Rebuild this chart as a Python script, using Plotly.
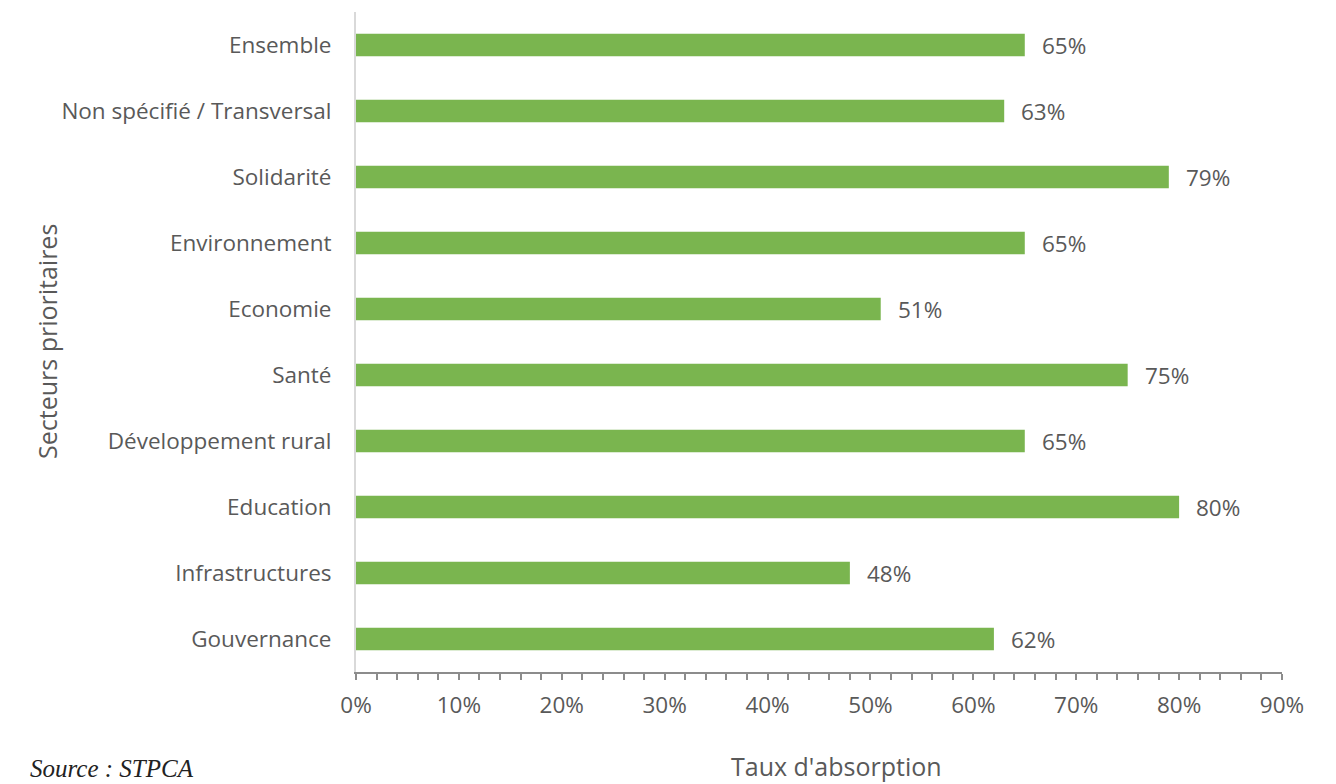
import plotly.graph_objects as go

# Taux d'absorption par secteur prioritaire
secteurs = [
    "Gouvernance",
    "Infrastructures",
    "Education",
    "Développement rural",
    "Santé",
    "Economie",
    "Environnement",
    "Solidarité",
    "Non spécifié / Transversal",
    "Ensemble",
]
taux = [62, 48, 80, 65, 75, 51, 65, 79, 63, 65]
x_ticks = [0, 10, 20, 30, 40, 50, 60, 70, 80, 90]
x_tick_labels = [f"{t}%" for t in x_ticks]

GREEN = "#7AB54F"
GREY_TEXT = "#595959"
FONT = "Open Sans"

L, R, T, B = 356, 54, 12, 112
W, H = 1336, 784
PW, PH = W - L - R, H - T - B

fig = go.Figure()
fig.add_trace(go.Bar(
    y=secteurs,
    x=taux,
    orientation="h",
    marker=dict(color=GREEN, line=dict(width=0)),
    width=0.34,
    hoverinfo="skip",
))

# Value labels to the right of each bar
for s, v in zip(secteurs, taux):
    fig.add_annotation(
        x=v, y=s, text=f"{v}%", showarrow=False,
        xanchor="left", xshift=15,
        font=dict(family=FONT, size=22.5, color=GREY_TEXT),
    )

fig.update_layout(
    width=W, height=H,
    margin=dict(l=L, r=R, t=T, b=B),
    paper_bgcolor="white", plot_bgcolor="white",
    showlegend=False,
    font=dict(family=FONT, color=GREY_TEXT),
)

fig.update_xaxes(
    range=[0, 90],
    tickvals=x_ticks, ticktext=x_tick_labels,
    tickfont=dict(family=FONT, size=22.5, color=GREY_TEXT),
    showgrid=False, zeroline=False,
    showline=True, linecolor="#8C8C8C", linewidth=2,
    ticks="outside", ticklen=6, tickcolor="#8C8C8C", tickwidth=1.5,
    minor=dict(dtick=2, ticks="outside", ticklen=6, tickcolor="#8C8C8C", tickwidth=1.5),
    ticklabelstandoff=6,
)
fig.update_yaxes(
    categoryorder="array", categoryarray=secteurs,
    range=[-0.5, 9.5],
    tickfont=dict(family=FONT, size=22.5, color=GREY_TEXT),
    showgrid=False, zeroline=False,
    showline=True, linecolor="#D9D9D9", linewidth=2,
    ticks="", ticklabelstandoff=18,
)

# Axis titles and source
fig.add_annotation(
    x=(47 - L) / PW, xref="paper", y=0.5, yref="paper",
    text="Secteurs prioritaires",
    showarrow=False, textangle=-90, xanchor="center", yanchor="middle",
    font=dict(family=FONT, size=25, color=GREY_TEXT),
)
fig.add_annotation(
    x=(836 - L) / PW, xref="paper",
    y=-(766 - (H - B)) / PH, yref="paper",
    text="Taux d'absorption", showarrow=False,
    xanchor="center", yanchor="middle",
    font=dict(family=FONT, size=25, color=GREY_TEXT),
)
fig.add_annotation(
    x=(28 - L) / PW, xref="paper",
    y=-(768 - (H - B)) / PH, yref="paper",
    text="<i>Source : STPCA</i>", showarrow=False,
    xanchor="left", yanchor="middle",
    font=dict(family="Liberation Serif", size=25, color="#222222"),
)

fig.write_html("out.html")
